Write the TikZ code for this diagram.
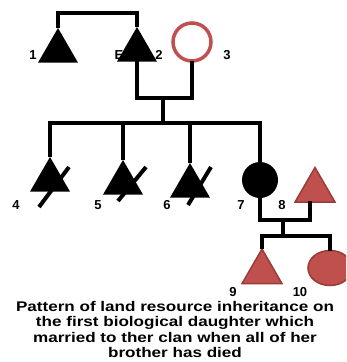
\documentclass[tikz,border=0pt]{standalone}
\usepackage{fontspec}
\setmainfont{Liberation Sans}
\newfontfamily\capfont[FakeStretch=1.22]{Liberation Sans}
\usetikzlibrary{shapes.geometric,calc}
\definecolor{kinred}{HTML}{C0504D}
\definecolor{kinredline}{HTML}{9A3B38}
\tikzset{
  link/.style={line width=4pt},
  male/.style={regular polygon, regular polygon sides=3, minimum size=46pt,
    inner sep=0pt, outer sep=0pt, fill=black},
  femaledark/.style={circle, minimum size=36pt, inner sep=0pt, outer sep=0pt, fill=black},
  femalering/.style={circle, minimum size=38pt, inner sep=0pt, outer sep=0pt,
    draw=kinred, line width=3.5pt, fill=white},
  malered/.style={regular polygon, regular polygon sides=3, minimum size=46pt,
    inner sep=0pt, outer sep=0pt, fill=kinred, draw=kinredline, line width=1.5pt},
  femalered/.style={ellipse, minimum width=44pt, minimum height=35pt, inner sep=0pt,
    outer sep=0pt, fill=kinred, draw=kinredline, line width=1.5pt},
  num/.style={font=\bfseries\fontsize{13}{13}\selectfont, inner sep=0pt},
  deadmark/.style={line width=4pt}
}
\begin{document}
\begin{tikzpicture}[x=1pt,y=-1pt]
\useasboundingbox (0,0) rectangle (346,362);
\clip (0,0) rectangle (346,362);

% first generation
\node[male] (p1) at (58,51) {};
\node[male] (p2) at (137,50) {};
\node[femalering] (p3) at (192,42) {};
\draw[link] (p1.corner 1) -- ++(0,-15) coordinate (top1) -| (p2.corner 1);

% marriage of 2 and 3
\coordinate (mar1) at (163,98);
\coordinate (sib) at (163,123);
\draw[link] (p2.center) |- (mar1) -| (p3.south);
\draw[link] (mar1) -- (sib);

% second generation
\node[male] (c4) at (50,180) {};
\node[male] (c5) at (123,183) {};
\node[male] (c6) at (190,186) {};
\node[femaledark] (c7) at (260,180) {};
\node[malered] (h8) at (315,190.5) {};
\draw[link] (c4.corner 1) |- (sib) -| (c7.north);
\draw[link] (c5.corner 1) -- (c5.corner 1 |- sib);
\draw[link] (c6.corner 1) -- (c6.corner 1 |- sib);

% crossed-out lines on the deceased brothers
\draw[deadmark] ($(c4.center)+(-11,27)$) -- ($(c4.center)+(19,-13)$);
\draw[deadmark] ($(c5.center)+(-5,18)$) -- ($(c5.center)+(23,-16)$);
\draw[deadmark] ($(c6.center)+(-2,19)$) -- ($(c6.center)+(21,-19)$);

% marriage of 7 and 8
\coordinate (mar2) at (283,220);
\coordinate (kid) at (283,236);
\draw[link] (c7.south) |- (mar2) -| (310,201);
\draw[link] (mar2) -- (kid);

% third generation
\node[malered] (g9) at (262,272) {};
\node[femalered] (g10) at (330,268) {};
\draw[link] (g9.corner 1) |- (kid) -| (g10.north);

% labels
\node[num] (l1) at (33,55) {1};
\node[num] (lE) at (119,55) {E};
\node[num] (l2) at (159,55) {2};
\node[num] (l3) at (227,55) {3};
\node[num] (l4) at (16,205) {4};
\node[num] (l5) at (98,205) {5};
\node[num] (l6) at (167,205) {6};
\node[num] (l7) at (241,205) {7};
\node[num] (l8) at (282,205) {8};
\node[num] (l9) at (233,292) {9};
\node[num] (l10) at (300,292) {10};

% caption
\node[inner sep=0pt, align=center, anchor=north,
  font=\capfont\bfseries\fontsize{14}{15.5}\selectfont] (cap) at (175,301)
  {Pattern of land resource inheritance on\\
   the first biological daughter which\\
   married to ther clan when all of her\\
   brother has died};
\end{tikzpicture}
\end{document}
